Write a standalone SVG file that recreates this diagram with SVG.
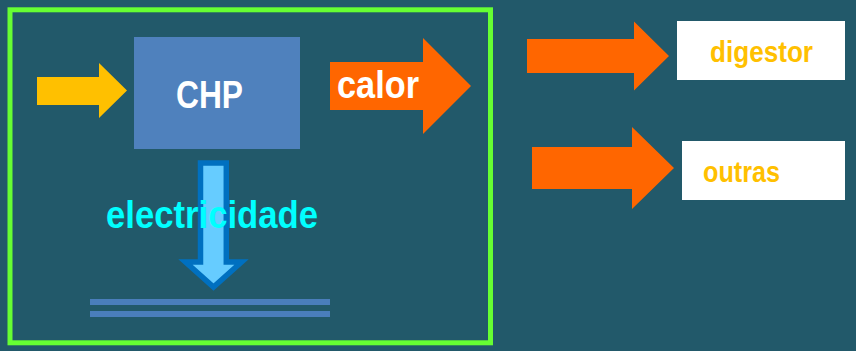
<svg xmlns="http://www.w3.org/2000/svg" width="856" height="351" viewBox="0 0 856 351">
<style>
.t{font-family:"Liberation Sans",Arial,sans-serif;font-weight:bold}
.orange{fill:#FF6600}
.box{fill:#FFFFFF}
.lbl{fill:#FFC000;font-size:30px}
.bus{fill:#4A7EBB}
</style>
<rect x="0" y="0" width="856" height="351" fill="#22596A"/>
<g id="system">
<rect x="10" y="9.8" width="480.5" height="333" fill="none" stroke="#66FF33" stroke-width="5"/>
</g>
<g id="chp">
<rect x="134" y="37" width="166" height="112" fill="#4F81BD"/>
<text class="t" x="176" y="108" font-size="38.5" fill="#FFFFFF" textLength="67" lengthAdjust="spacingAndGlyphs">CHP</text>
</g>
<g id="bus">
<rect class="bus" x="90" y="299" width="240" height="6"/>
<rect class="bus" x="90" y="311" width="240" height="6"/>
</g>
<g id="digestor">
<rect class="box" x="677" y="21" width="168" height="59"/>
<text class="t lbl" x="710" y="62" textLength="103" lengthAdjust="spacingAndGlyphs">digestor</text>
</g>
<g id="outras">
<rect class="box" x="682" y="141" width="163" height="59"/>
<text class="t lbl" x="703" y="182" textLength="77" lengthAdjust="spacingAndGlyphs">outras</text>
</g>
<g id="connectors">
<polygon fill="#FFC000" points="37,77 99,77 99,63 127,90.5 99,118 99,105 37,105"/>
<g id="calor">
<polygon class="orange" points="330,62 423,62 423,38 471,86 423,134 423,110 330,110"/>
<text class="t" x="337" y="98" font-size="38" fill="#FFFFFF" textLength="82" lengthAdjust="spacingAndGlyphs">calor</text>
</g>
<polygon class="orange" points="527,39 634,39 634,21.5 669,56 634,90.5 634,73 527,73"/>
<polygon class="orange" points="532,147 632,147 632,127 674,168 632,209 632,189 532,189"/>
<g id="electricidade">
<polygon fill="#66CCFF" stroke="#0070C0" stroke-width="5.5" points="200.5,163 226.3,163 226.3,262 241.5,262 213.5,287 185.5,262 200.5,262"/>
<text class="t" x="106" y="228" font-size="38" fill="#00FFFF" textLength="212" lengthAdjust="spacingAndGlyphs">electricidade</text>
</g>
</g>
</svg>
